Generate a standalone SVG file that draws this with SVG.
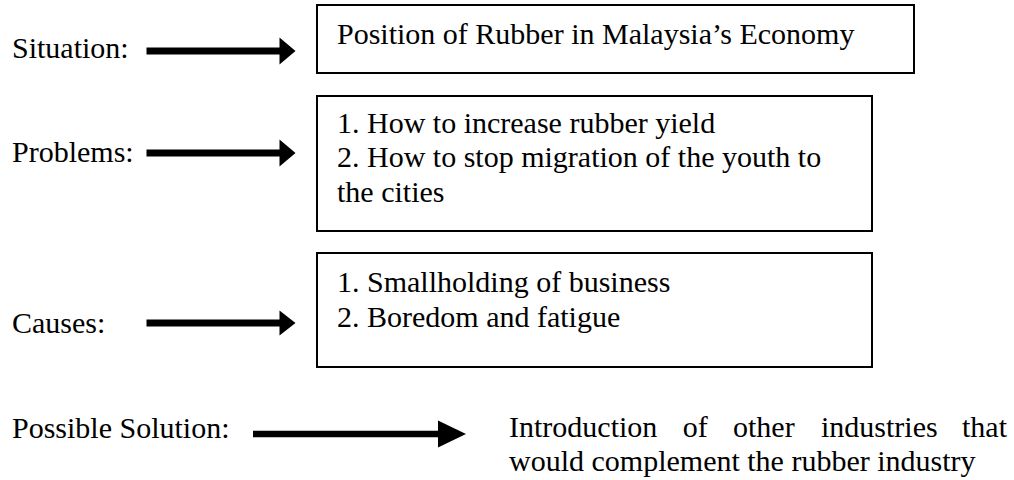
<svg xmlns="http://www.w3.org/2000/svg" width="1014" height="480" viewBox="0 0 1014 480">
<style>
text{font-family:"Liberation Serif","Times New Roman",serif;font-size:30px;fill:#000}
.box{fill:#fff;stroke:#000;stroke-width:2}
.arr{fill:#000;stroke:none}
</style>
<rect width="1014" height="480" fill="#fff"/>
<g id="labels">
<text x="12" y="58">Situation:</text>
<text x="12" y="162">Problems:</text>
<text x="12" y="333">Causes:</text>
<text x="12" y="438">Possible Solution:</text>
</g>
<g id="connectors">
<path class="arr" d="M146.5,47.5H279.5V37.5L295.5,51L279.5,64.5V54.5H146.5Z"/>
<path class="arr" d="M146.5,149.5H279.5V139.5L295.5,153L279.5,166.5V156.5H146.5Z"/>
<path class="arr" d="M146.5,319.5H279.5V310.5L295.5,323L279.5,335.5V326.5H146.5Z"/>
<path class="arr" d="M253,430.8H438V420.5L466,434L438,447.5V437.2H253Z"/>
</g>
<g id="situation">
<rect class="box" x="317" y="5" width="597" height="68"/>
<text x="337" y="44">Position of Rubber in Malaysia’s Economy</text>
</g>
<g id="problems">
<rect class="box" x="317" y="96" width="555" height="135"/>
<text x="337" y="133">1. How to increase rubber yield</text>
<text x="337" y="167">2. How to stop migration of the youth to</text>
<text x="337" y="202">the cities</text>
</g>
<g id="causes">
<rect class="box" x="317" y="253" width="555" height="114"/>
<text x="337" y="292">1. Smallholding of business</text>
<text x="337" y="327">2. Boredom and fatigue</text>
</g>
<g id="solution">
<text y="437"><tspan x="509">Introduction</tspan><tspan x="682.7">of</tspan><tspan x="733">other</tspan><tspan x="821">industries</tspan></text>
<text x="1007" y="437" text-anchor="end">that</text>
<text x="509" y="471">would complement the rubber industry</text>
</g>
</svg>
